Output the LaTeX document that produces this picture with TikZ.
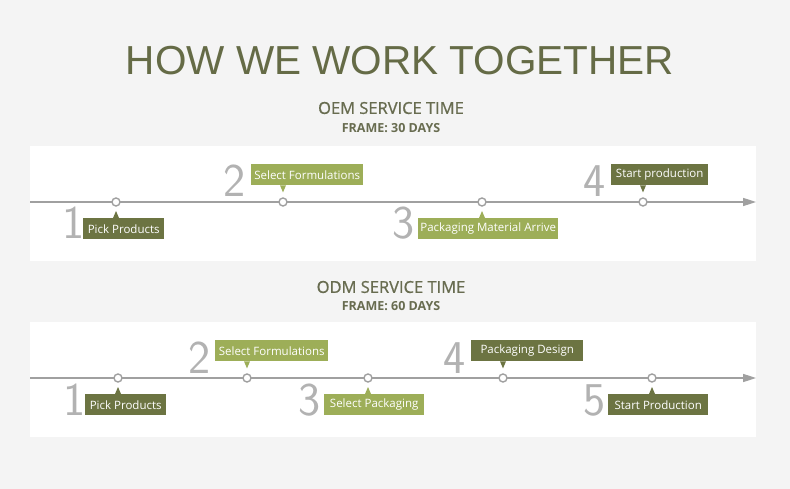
\documentclass[tikz,border=0pt]{standalone}
\usepackage{fontspec}
\setmainfont{Open Sans}
\newfontfamily\titlefont{Liberation Sans}
\newfontfamily\subfont[FakeBold=0.9]{Open Sans}
\usetikzlibrary{calc,arrows.meta}
\definecolor{bgc}{RGB}{244,244,244}
\definecolor{titlec}{RGB}{101,107,70}
\definecolor{subc}{RGB}{104,108,80}
\definecolor{darkc}{RGB}{108,116,66}
\definecolor{litec}{RGB}{157,174,88}
\definecolor{linec}{RGB}{160,160,160}
\definecolor{numc}{RGB}{178,178,178}
\tikzset{
  panel/.style={fill=white,draw=none},
  lab/.style={rectangle,text=white,font=\fontsize{11.5}{13}\selectfont,inner sep=0pt,minimum height=21pt,anchor=north west},
  darklab/.style={lab,fill=darkc},
  litelab/.style={lab,fill=litec},
  dot/.style={circle,draw=linec,fill=white,line width=1.4pt,minimum size=8pt,inner sep=0pt},
  num/.style={text=numc,font=\sffamily\fontsize{47}{47}\selectfont,inner sep=0pt},
  tline/.style={draw=linec,line width=1.6pt,-{Triangle[length=13pt,width=8pt]}},
  subt/.style={text=subc,font=\subfont\fontsize{16.5}{20}\selectfont},
  frm/.style={text=subc,font=\bfseries\fontsize{12.5}{15}\selectfont}
}
\newcommand\ptr[4]{\fill[#1] ($(#2 -| #3)+(-3,0)$) -- ($(#2 -| #3)+(3,0)$) -- ($(#2 -| #3)+(0,#4)$) -- cycle;}
\begin{document}
\begin{tikzpicture}[x=1pt,y=-1pt]
\fill[bgc] (0,0) rectangle (790,489);
\useasboundingbox (0,0) rectangle (790,489);
% title
\node[text=titlec,font=\titlefont\fontsize{40.5}{44}\selectfont,inner sep=0pt] (title) at (400,61) {HOW WE WORK TOGETHER};
\node[subt,inner sep=0pt] (oem) at (391,108) {OEM SERVICE TIME};
\node[frm,inner sep=0pt] (oemf) at (391,128) {FRAME: 30 DAYS};
\node[subt,inner sep=0pt] (odm) at (391,287) {ODM SERVICE TIME};
\node[frm,inner sep=0pt] (odmf) at (391,306) {FRAME: 60 DAYS};
% panels
\fill[panel] (30,146) rectangle (756,261);
\fill[panel] (30,322) rectangle (756,437);
% ---- OEM timeline
\coordinate (a0) at (30,202);
\coordinate (a9) at (756,202);
\draw[tline] (a0) -- (a9);
\node[dot] (ad1) at (116,202) {};
\node[dot] (ad2) at (283,202) {};
\node[dot] (ad3) at (482,202) {};
\node[dot] (ad4) at (643,202) {};
\node[darklab,minimum width=81pt] (al1) at (83,218) {Pick Products};
\node[litelab,minimum width=112pt] (al2) at (251,164) {Select Formulations};
\node[litelab,minimum width=140pt] (al3) at (418,218) {Packaging Material Arrive};
\node[darklab,minimum width=97pt] (al4) at (611,164) {Start production};
\ptr{darkc}{al1.north}{ad1}{-7}
\ptr{litec}{al2.south}{ad2}{7}
\ptr{litec}{al3.north}{ad3}{-7}
\ptr{darkc}{al4.south}{ad4}{7}
\node[num] (an1) at (74,223) {1};
\node[num] (an2) at (235,181) {2};
\node[num] (an3) at (404,223) {3};
\node[num] (an4) at (595,181) {4};
% ---- ODM timeline
\coordinate (b0) at (30,378);
\coordinate (b9) at (756,378);
\draw[tline] (b0) -- (b9);
\node[dot] (bd1) at (118,378) {};
\node[dot] (bd2) at (247,378) {};
\node[dot] (bd3) at (368,378) {};
\node[dot] (bd4) at (503,378) {};
\node[dot] (bd5) at (652,378) {};
\node[darklab,minimum width=81pt] (bl1) at (85,394) {Pick Products};
\node[litelab,minimum width=113pt] (bl2) at (215,340) {Select Formulations};
\node[litelab,minimum width=100pt] (bl3) at (324,394) {Select Packaging};
\node[darklab,minimum width=112pt] (bl4) at (471,340) {Packaging Design};
\node[darklab,minimum width=100pt] (bl5) at (608,394) {Start Production};
\ptr{darkc}{bl1.north}{bd1}{-7}
\ptr{litec}{bl2.south}{bd2}{7}
\ptr{litec}{bl3.north}{bd3}{-7}
\ptr{darkc}{bl4.south}{bd4}{7}
\ptr{darkc}{bl5.north}{bd5}{-7}
\node[num] (bn1) at (75,400) {1};
\node[num] (bn2) at (200,358) {2};
\node[num] (bn3) at (310,400) {3};
\node[num] (bn4) at (455,358) {4};
\node[num] (bn5) at (595,400) {5};
\end{tikzpicture}
\end{document}
